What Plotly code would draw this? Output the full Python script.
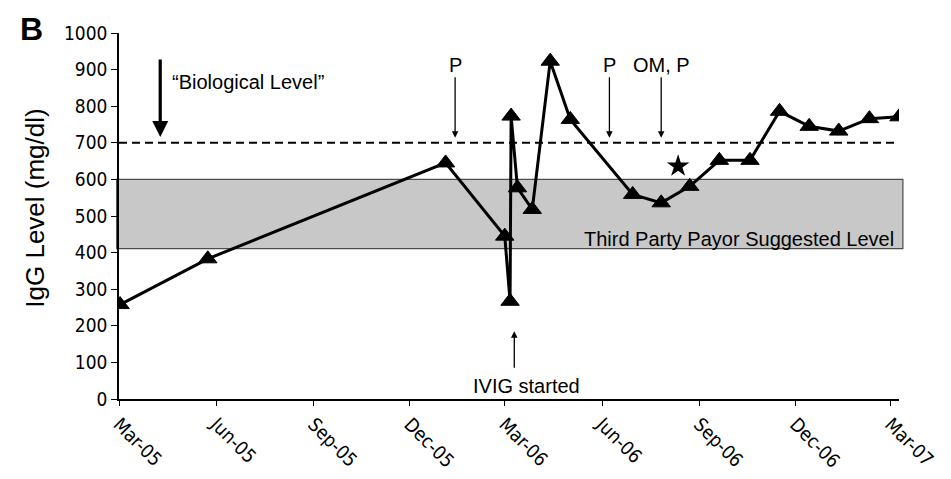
import plotly.graph_objects as go

# ---- data ----
dates = ["2005-03-02", "2005-05-24", "2006-01-04", "2006-03-01", "2006-03-06",
         "2006-03-07", "2006-03-13", "2006-03-27", "2006-04-13", "2006-05-02",
         "2006-06-30", "2006-07-27", "2006-08-23", "2006-09-20", "2006-10-19",
         "2006-11-16", "2006-12-14", "2007-01-11", "2007-02-09", "2007-03-09"]
igg = [258, 383, 645, 445, 267,
       773, 577, 518, 923, 764,
       559, 536, 581, 652, 652,
       786, 745, 732, 766, 771]

star_date = ["2006-08-12"]
star_val = [636]

biological_level = 700
payor_low, payor_high = 411, 600

tick_dates = ["2005-03-01", "2005-06-01", "2005-09-01", "2005-12-01", "2006-03-01",
              "2006-06-01", "2006-09-01", "2006-12-01", "2007-03-01"]
tick_labels = ["Mar-05", "Jun-05", "Sep-05", "Dec-05", "Mar-06",
               "Jun-06", "Sep-06", "Dec-06", "Mar-07"]
y_ticks = list(range(0, 1001, 100))

TICK_FONT = dict(family="DejaVu Sans Condensed, DejaVu Sans, sans-serif", size=19, color="black")
ANN_FONT = dict(family="Liberation Sans, Arial, sans-serif", size=20, color="black")

fig = go.Figure()

fig.add_trace(go.Scatter(
    x=dates, y=igg, mode="lines+markers",
    line=dict(color="black", width=3),
    marker=dict(symbol="triangle-up", size=16, color="black", line=dict(color="black", width=1)),
    showlegend=False, hoverinfo="x+y"))

fig.add_trace(go.Scatter(
    x=star_date, y=star_val, mode="markers",
    marker=dict(symbol="star", size=17, color="black"),
    showlegend=False))

# shaded payor band
fig.add_shape(type="rect", xref="paper", yref="y", x0=-0.003, x1=1.005,
              y0=payor_low, y1=payor_high, fillcolor="#c8c8c8",
              line=dict(color="#4d4d4d", width=1.2), layer="below")
# biological level dashed line
fig.add_shape(type="line", xref="paper", yref="y", x0=0, x1=0.997,
              y0=biological_level, y1=biological_level,
              line=dict(color="black", width=2, dash="8px,5px"))

ann = []
# Biological level arrow + text
ann.append(dict(x="2005-04-09", y=716, xref="x", yref="y", text="", showarrow=True,
                ax=0, ay=-79, arrowhead=2, arrowsize=1, arrowwidth=3.2, arrowcolor="black"))
ann.append(dict(x="2005-04-18", y=865, xref="x", yref="y", text="\u201cBiological Level\u201d",
                showarrow=False, xanchor="left", yanchor="middle", font=ANN_FONT))
# P arrows
for d, t in [("2006-01-13", "P"), ("2006-06-08", "P"), ("2006-07-27", "OM, P")]:
    ann.append(dict(x=d, y=714, xref="x", yref="y", text=t, showarrow=True,
                    ax=0, ay=-73, arrowhead=2, arrowsize=1, arrowwidth=1.3,
                    arrowcolor="black", font=ANN_FONT))
# IVIG started
ann.append(dict(x="2006-03-10", y=185, xref="x", yref="y", text="", showarrow=True,
                ax=0, ay=38, arrowhead=2, arrowsize=1, arrowwidth=1.3, arrowcolor="black"))
ann.append(dict(x="2006-03-22", y=35, xref="x", yref="y", text="IVIG started",
                showarrow=False, xanchor="center", yanchor="middle", font=ANN_FONT))
# Payor label
ann.append(dict(x=0.996, y=436, xref="paper", yref="y", text="Third Party Payor Suggested Level",
                showarrow=False, xanchor="right", yanchor="middle", font=ANN_FONT))
# y title
ann.append(dict(x=-0.108, y=0.522, xref="paper", yref="paper", text="IgG Level (mg/dl)",
                textangle=-90, showarrow=False, xanchor="center", yanchor="middle",
                font=dict(family="Liberation Sans, Arial, sans-serif", size=26, color="black")))
# panel letter
ann.append(dict(x=-0.112, y=1.066, xref="paper", yref="paper", text="<b>B</b>",
                showarrow=False, xanchor="center", yanchor="top",
                font=dict(family="Liberation Sans, Arial, sans-serif", size=32, color="black")))

# the page body adds an 8px offset, so the figure is 8px smaller and margins shifted
fig.update_layout(
    width=943, height=471,
    margin=dict(l=111, r=52, t=25, b=80, autoexpand=False),
    paper_bgcolor="white", plot_bgcolor="white",
    annotations=ann,
    xaxis=dict(type="date", range=["2005-03-01", "2007-03-09"],
               tickmode="array", tickvals=tick_dates, ticktext=tick_labels,
               tickangle=45, tickfont=TICK_FONT, showgrid=False, zeroline=False,
               showline=True, linecolor="black", linewidth=1.5,
               ticks="outside", ticklen=5, tickwidth=1.3, tickcolor="black",
               automargin=False),
    yaxis=dict(range=[0, 1000], tickmode="array", tickvals=y_ticks,
               tickfont=TICK_FONT, showgrid=False, zeroline=False,
               showline=True, linecolor="black", linewidth=1.5,
               ticks="outside", ticklen=6, tickwidth=1.3, tickcolor="black",
               automargin=False),
)

fig.write_html("out.html")
